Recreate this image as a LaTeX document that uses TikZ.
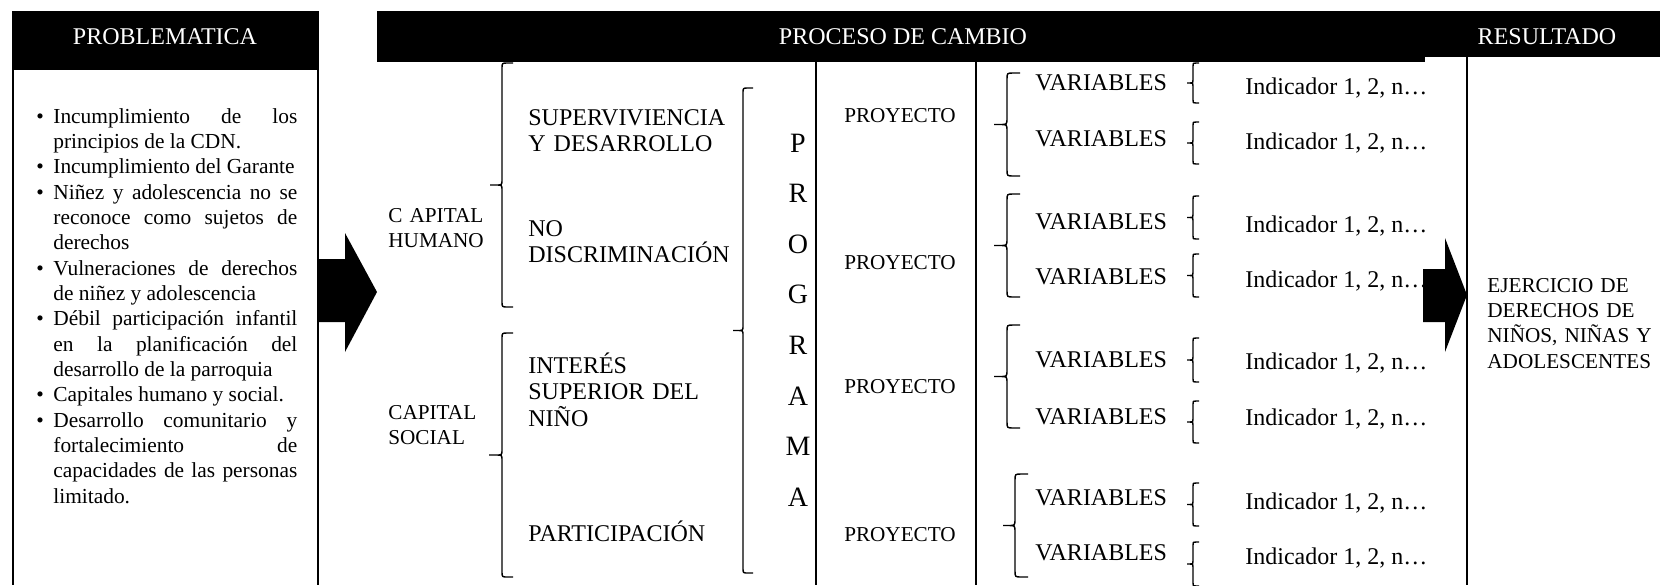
\documentclass[tikz,border=0pt]{standalone}
\usepackage{fontspec}
\setmainfont{Liberation Serif}
\newcommand\probitem[1]{\hangindent=8.5pt\hangafter=1\noindent\makebox[8.5pt][l]{\textbullet}#1\par}
% left brace: x of bar, top, bottom, hook length, tip length
\newcommand\lbrc[5]{%
  \draw[brcline] ({#1+#4},#2) -- ({#1+#4/2},#2) .. controls (#1,#2) .. (#1,{#2+#4/2})
    -- (#1,{(#2+#3)/2-#4/2}) .. controls (#1,{(#2+#3)/2}) .. ({#1-#4/2},{(#2+#3)/2}) -- ({#1-#5},{(#2+#3)/2})
    ({#1-#4/2},{(#2+#3)/2}) .. controls (#1,{(#2+#3)/2}) .. (#1,{(#2+#3)/2+#4/2})
    -- (#1,{#3-#4/2}) .. controls (#1,#3) .. ({#1+#4/2},#3) -- ({#1+#4},#3);}

\begin{document}
\begin{tikzpicture}[
    x=0.5pt, y=-0.5pt,
    headtext/.style={text=white, inner sep=0pt, font=\fontsize{12}{14}\selectfont},
    frame/.style={line width=1.2pt},
    brcline/.style={line width=0.7pt, line join=round},
    blockarrow/.style={fill=black},
    problist/.style={text width=130.5pt, align=justify, inner sep=0pt, anchor=base west,
        font=\fontsize{10.7}{12.67}\selectfont},
    captext/.style={text width=60pt, align=left, inner sep=0pt, anchor=base west,
        font=\fontsize{10.6}{12.5}\selectfont},
    princtext/.style={text width=110pt, align=left, inner sep=0pt, anchor=base west,
        font=\fontsize{12}{13.4}\selectfont},
    progletter/.style={inner sep=0pt, font=\fontsize{14}{16}\selectfont},
    projtext/.style={inner sep=0pt, font=\fontsize{10.6}{12}\selectfont},
    vartext/.style={inner sep=0pt, anchor=west, font=\fontsize{12}{14}\selectfont},
    indtext/.style={inner sep=0pt, anchor=base west, font=\fontsize{12}{14}\selectfont},
    restext/.style={text width=90pt, align=left, inner sep=0pt, anchor=base west,
        font=\fontsize{10.6}{12.7}\selectfont}
]
\useasboundingbox (0,0) rectangle (1660,585);

\fill (13,11) rectangle (318,70);
\fill (377,11) rectangle (1425,62);
\fill (1425,11) rectangle (1660,57);
\node[headtext] (hprob) at (165,37) {PROBLEMATICA};
\node[headtext] (hproc) at (903,37) {PROCESO DE CAMBIO};
\node[headtext] (hres)  at (1547,37) {RESULTADO};

\draw[frame] (13,11)   -- (13,585);
\draw[frame] (318,11)  -- (318,585);
\draw[frame] (816,62)  -- (816,585);
\draw[frame] (976,62)  -- (976,585);
\draw[frame] (1467,57) -- (1467,585);

\fill[blockarrow] (318,259) -- (345,259) -- (345,233) -- (377,292) -- (345,352) -- (345,322) -- (318,322) -- cycle;
\fill[blockarrow] (1423,269) -- (1445,269) -- (1445,238) -- (1467,295) -- (1445,352) -- (1445,322) -- (1423,322) -- cycle;

\node[problist] (probl) at (36,123) {\hyphenpenalty=10000\exhyphenpenalty=10000\tolerance=10000
    \probitem{Incumplimiento de los\linebreak principios de la CDN.}
    \probitem{Incumplimiento del Garante}
    \probitem{Niñez y adolescencia no se\linebreak reconoce como sujetos de\linebreak derechos}
    \probitem{Vulneraciones de derechos\linebreak de niñez y adolescencia}
    \probitem{Débil participación infantil\linebreak en la planificación del\linebreak desarrollo de la parroquia}
    \probitem{Capitales humano y social.}
    \probitem{Desarrollo comunitario y\linebreak fortalecimiento de\linebreak capacidades de las personas\linebreak limitado.}};

\node[captext] (caphum) at (388,222) {C APITAL\\HUMANO};
\node[captext] (capsoc) at (388,419) {CAPITAL\\SOCIAL};

\node[princtext] (superv)  at (528,125) {SUPERVIVIENCIA\\Y DESARROLLO};
\node[princtext] (nodisc)  at (528,236) {NO\\DISCRIMINACIÓN};
\node[princtext] (interes) at (528,373) {INTERÉS\\SUPERIOR DEL\\NIÑO};
\node[princtext] (partic)  at (528,541) {PARTICIPACIÓN};

\lbrc{502}{63}{307}{11}{12}
\lbrc{502}{333}{577}{11}{13}
\lbrc{743}{88}{573}{10}{10}

\foreach \l [count=\i] in {P,R,O,G,R,A,M,A}
    \node[progletter] (prog\i) at (798,{143+50.6*(\i-1)}) {\l};

\foreach \y [count=\i] in {116,263,387,535}
    \node[projtext] (proy\i) at (900,\y) {PROYECTO};

\lbrc{1007}{73}{176}{13}{13}
\lbrc{1007}{194}{297}{13}{13}
\lbrc{1007}{325}{428}{13}{13}
\lbrc{1015}{474}{577}{13}{12}

\foreach \y [count=\i] in {83,139,222,277,360,417,498,553}
    \node[vartext] (var\i) at (1035,\y) {VARIABLES};

\foreach \t/\b in {63/103,122/164,196/239,254/297,338/382,401/443,483/526,542/586}
    {\lbrc{1193}{\t}{\b}{6}{6}}

\foreach \y [count=\i] in {94,149,232,287,369,425,509,564}
    \node[indtext] (ind\i) at (1245,\y) {Indicador 1, 2, n…};

\node[restext] (ejerc) at (1487,292) {EJERCICIO DE\\DERECHOS DE\\NIÑOS, NIÑAS Y\\ADOLESCENTES};
\end{tikzpicture}
\end{document}
